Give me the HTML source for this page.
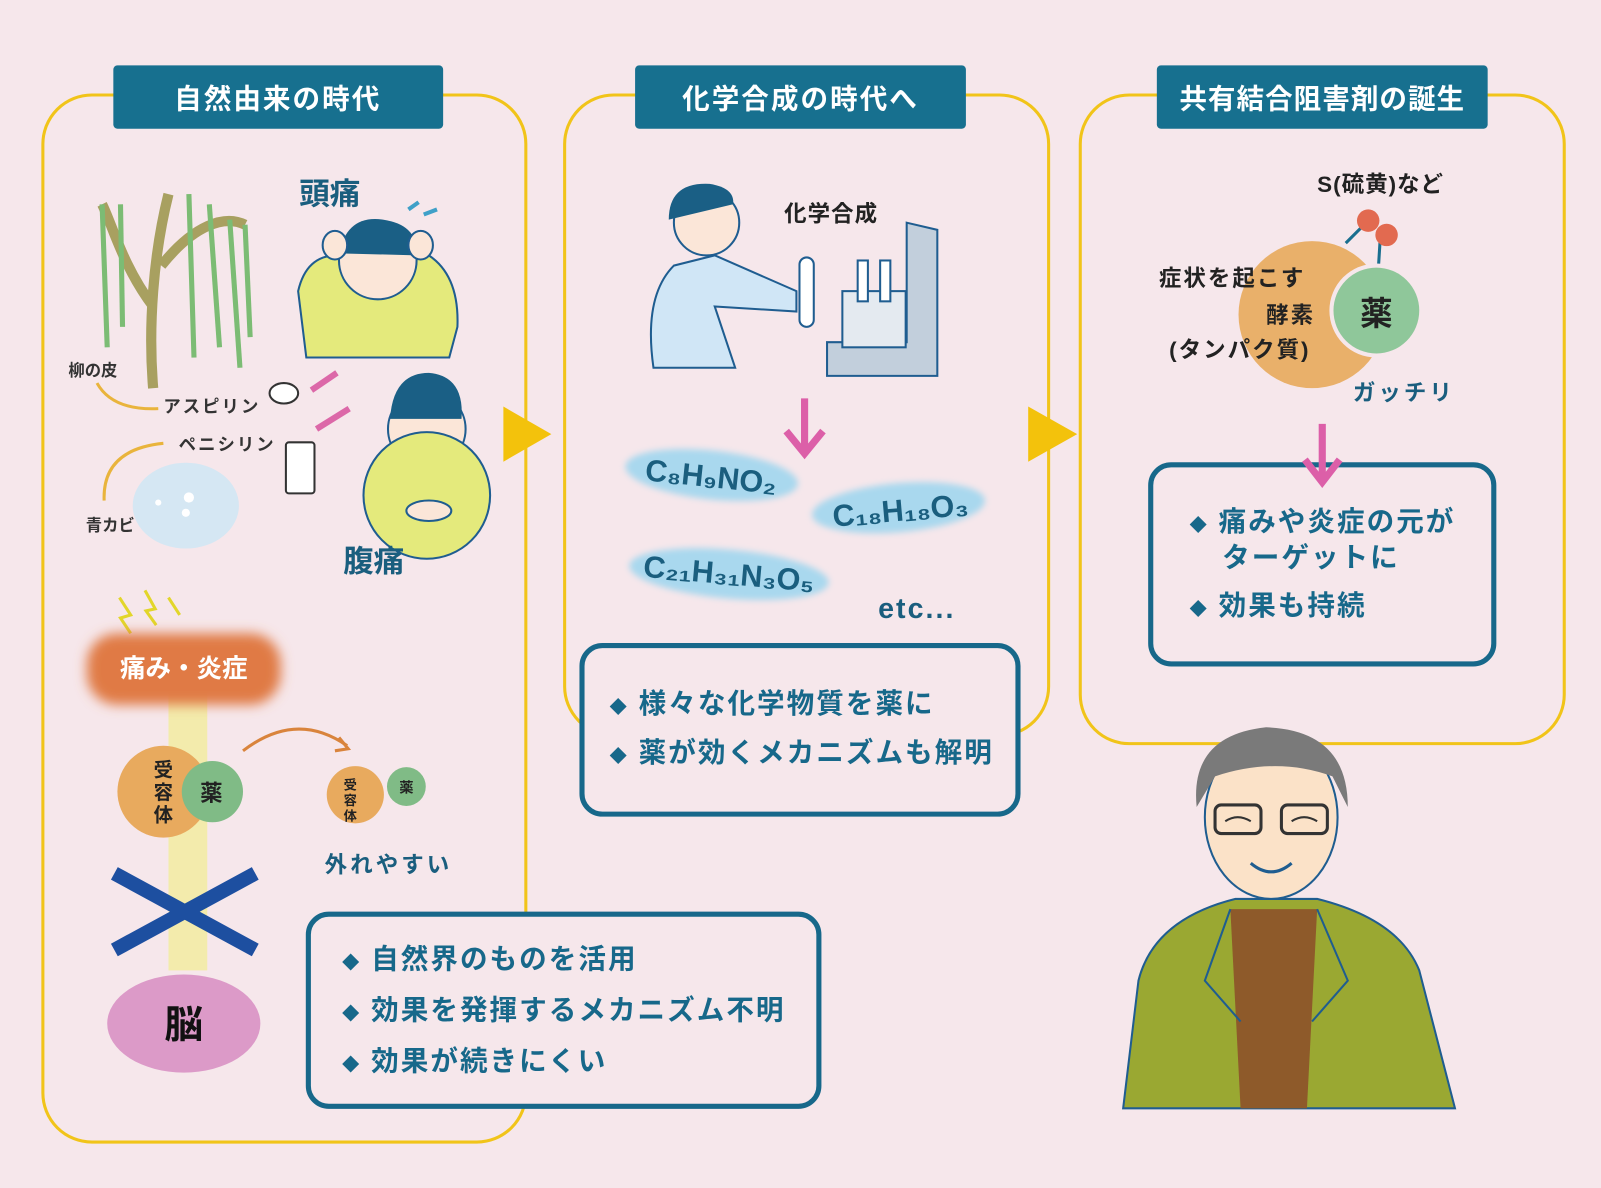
<!DOCTYPE html>
<html><head><meta charset="utf-8"><style>
html,body{margin:0;padding:0;background:#f6e7eb}
svg{display:block}
text{font-family:"Liberation Sans","Noto Sans CJK JP",sans-serif;font-weight:bold}
</style></head><body>
<svg width="1601" height="1188" viewBox="0 0 1568 1163" preserveAspectRatio="none" xmlns="http://www.w3.org/2000/svg">
<defs>
<filter id="bl" x="-20%" y="-40%" width="140%" height="180%"><feGaussianBlur stdDeviation="6"/></filter>
<filter id="bl2" x="-20%" y="-40%" width="140%" height="180%"><feGaussianBlur stdDeviation="3"/></filter>
</defs>
<rect width="1568" height="1163" fill="#f6e7eb"/>
<rect x="42" y="93" width="473" height="1025" rx="48" fill="none" stroke="#f1c419" stroke-width="3"/>
<rect x="553" y="93" width="474" height="627" rx="48" fill="none" stroke="#f1c419" stroke-width="3"/>
<rect x="1058" y="93" width="474" height="635" rx="48" fill="none" stroke="#f1c419" stroke-width="3"/>
<rect x="111" y="64" width="323" height="62" rx="4" fill="#17708f"/>
<text x="272" y="106" font-size="27" fill="#fff" text-anchor="middle" letter-spacing="2">自然由来の時代</text>
<rect x="622" y="64" width="324" height="62" rx="4" fill="#17708f"/>
<text x="784" y="106" font-size="27" fill="#fff" text-anchor="middle" letter-spacing="2">化学合成の時代へ</text>
<rect x="1133" y="64" width="324" height="62" rx="4" fill="#17708f"/>
<text x="1295" y="106" font-size="27" fill="#fff" text-anchor="middle" letter-spacing="1">共有結合阻害剤の誕生</text>
<polygon points="493,398 540,425 493,452" fill="#f3c20c"/>
<polygon points="1007,398 1055,425 1007,452" fill="#f3c20c"/>

<path d="M150,380 C145,320 150,250 165,190 M150,300 C120,260 110,220 100,200 M158,260 C190,220 220,210 240,220" stroke="#a8a060" stroke-width="10" fill="none"/>
<g stroke="#7cbc74" stroke-width="5" fill="none">
<path d="M100,200 L105,340"/><path d="M118,200 L120,320"/><path d="M185,190 L190,350"/><path d="M205,200 L215,340"/><path d="M225,215 L235,360"/><path d="M240,220 L245,330"/>
</g>
<text x="67" y="368" font-size="16" fill="#333">柳の皮</text>
<path d="M95,375 Q110,402 155,400" stroke="#e9b43c" stroke-width="3" fill="none"/>
<text x="160" y="404" font-size="17" fill="#333" letter-spacing="2">アスピリン</text>
<ellipse cx="278" cy="385" rx="14" ry="10" fill="#fff" stroke="#333" stroke-width="2"/>
<text x="175" y="441" font-size="17" fill="#333" letter-spacing="2">ペニシリン</text>
<path d="M102,490 Q100,440 160,434" stroke="#e9b43c" stroke-width="3" fill="none"/>
<rect x="280" y="433" width="28" height="50" rx="3" fill="#fff" stroke="#333" stroke-width="2"/>
<ellipse cx="182" cy="495" rx="52" ry="42" fill="#cfe6f4" opacity=".85"/>
<circle cx="185" cy="487" r="5" fill="#fff"/><circle cx="155" cy="492" r="3" fill="#fff"/><circle cx="182" cy="502" r="4" fill="#fff"/>
<text x="84" y="520" font-size="16" fill="#333">青カビ</text>
<path d="M305,382 L330,365 M310,420 L342,400" stroke="#dc68a8" stroke-width="6"/>
<text x="293" y="200" font-size="30" fill="#1a5e7e">頭痛</text>
<path d="M292,285 Q300,250 330,250 L420,250 Q450,270 448,320 L440,350 L300,350 Z" fill="#e4ea7c" stroke="#1f5d90" stroke-width="2"/>
<circle cx="370" cy="255" r="38" fill="#fbe6d8" stroke="#1f5d90" stroke-width="2"/>
<path d="M332,248 Q340,210 375,215 Q410,220 408,250 Z" fill="#1a5f85"/>
<ellipse cx="328" cy="240" rx="12" ry="14" fill="#fbe6d8" stroke="#1f5d90" stroke-width="2"/>
<ellipse cx="412" cy="240" rx="12" ry="14" fill="#fbe6d8" stroke="#1f5d90" stroke-width="2"/>
<path d="M400,205 L410,198 M415,210 L428,205" stroke="#3fa0c8" stroke-width="4"/>
<circle cx="418" cy="420" r="38" fill="#fbe6d8" stroke="#1f5d90" stroke-width="2"/>
<path d="M382,410 Q385,365 420,365 Q455,368 452,410 Z" fill="#1a5f85"/>
<circle cx="418" cy="485" r="62" fill="#e4ea7c" stroke="#1f5d90" stroke-width="2"/>
<ellipse cx="420" cy="500" rx="22" ry="10" fill="#fbe6d8" stroke="#1f5d90" stroke-width="2"/>
<text x="336" y="560" font-size="30" fill="#1a5e7e">腹痛</text>
<path d="M117,585 L128,602 L118,605 L128,620 M142,578 L152,596 L143,598 L153,612 M165,585 L176,602" stroke="#e2d62a" stroke-width="3" fill="none"/>
<rect x="165" y="660" width="38" height="290" fill="#f2ec9c" opacity=".8"/>
<rect x="85" y="620" width="190" height="70" rx="30" fill="#e07a44" filter="url(#bl)"/>
<text x="180" y="663" font-size="25" fill="#fff" text-anchor="middle">痛み・炎症</text>
<circle cx="160" cy="775" r="45" fill="#e8aa5e"/>
<circle cx="208" cy="775" r="30" fill="#80bb86"/>
<text x="207" y="784" font-size="22" fill="#222" text-anchor="middle">薬</text>
<text x="160" y="760" font-size="19" fill="#222" text-anchor="middle">受</text>
<text x="160" y="782" font-size="19" fill="#222" text-anchor="middle">容</text>
<text x="160" y="804" font-size="19" fill="#222" text-anchor="middle">体</text>
<path d="M238,735 Q290,695 340,730" stroke="#d9843c" stroke-width="3" fill="none"/>
<path d="M332,722 L341,733 L328,735" stroke="#d9843c" stroke-width="3" fill="none"/>
<circle cx="348" cy="778" r="28" fill="#e8aa5e"/>
<circle cx="398" cy="770" r="19" fill="#80bb86"/>
<text x="398" y="776" font-size="14" fill="#222" text-anchor="middle">薬</text>
<text x="343" y="773" font-size="13" fill="#222" text-anchor="middle">受</text>
<text x="343" y="788" font-size="13" fill="#222" text-anchor="middle">容</text>
<text x="343" y="803" font-size="13" fill="#222" text-anchor="middle">体</text>
<text x="318" y="854" font-size="22" fill="#1a5e7e" letter-spacing="3">外れやすい</text>
<path d="M112,855 L250,930 M250,855 L112,930" stroke="#1d4fa0" stroke-width="14"/>
<ellipse cx="180" cy="1002" rx="75" ry="48" fill="#dc9ac8"/>
<text x="180" y="1016" font-size="38" fill="#111" text-anchor="middle">脳</text>
<rect x="302" y="895" width="500" height="188" rx="20" fill="#f6e7eb" stroke="#17688a" stroke-width="5"/>
<g font-size="27" fill="#17688a" letter-spacing="2">
<text x="335" y="948"><tspan font-size="17">◆</tspan> 自然界のものを活用</text>
<text x="335" y="998"><tspan font-size="17">◆</tspan> 効果を発揮するメカニズム不明</text>
<text x="335" y="1048"><tspan font-size="17">◆</tspan> 効果が続きにくい</text>
</g>

<path d="M640,360 Q630,290 660,260 L700,250 L780,285 L780,305 L700,300 L720,360 Z" fill="#d0e6f6" stroke="#1f5d90" stroke-width="2"/>
<circle cx="692" cy="218" r="32" fill="#fbe6d8" stroke="#1f5d90" stroke-width="2"/>
<path d="M655,215 Q655,178 695,180 Q720,184 718,200 Z" fill="#1a5f85"/>
<rect x="783" y="252" width="14" height="68" rx="7" fill="#fff" stroke="#1f5d90" stroke-width="2"/>
<text x="768" y="217" font-size="22" fill="#222" letter-spacing="1">化学合成</text>
<path d="M888,218 L918,225 L918,368 L810,368 L810,335 L888,335 Z" fill="#c2cfdc" stroke="#1f5d90" stroke-width="2"/>
<rect x="825" y="285" width="62" height="55" fill="#e4eaf0" stroke="#1f5d90" stroke-width="2"/>
<rect x="840" y="255" width="10" height="40" fill="#fff" stroke="#1f5d90" stroke-width="2"/>
<rect x="862" y="255" width="10" height="40" fill="#fff" stroke="#1f5d90" stroke-width="2"/>
<path d="M788,390 L788,440 M770,422 L788,444 L806,422" stroke="#dc5fa8" stroke-width="7" fill="none"/>
<ellipse cx="697" cy="465" rx="85" ry="24" fill="#a9d8ee" filter="url(#bl2)" transform="rotate(6 697 465)"/>
<text x="632" y="477" font-size="30" fill="#1a5e7e" transform="rotate(6 697 465)">C₈H₉NO₂</text>
<ellipse cx="880" cy="497" rx="85" ry="24" fill="#a9d8ee" filter="url(#bl2)" transform="rotate(-5 880 497)"/>
<text x="815" y="510" font-size="30" fill="#1a5e7e" transform="rotate(-5 880 497)">C₁₈H₁₈O₃</text>
<ellipse cx="714" cy="562" rx="98" ry="24" fill="#a9d8ee" filter="url(#bl2)" transform="rotate(5 714 562)"/>
<text x="630" y="572" font-size="30" fill="#1a5e7e" transform="rotate(5 714 562)">C₂₁H₃₁N₃O₅</text>
<text x="860" y="605" font-size="28" fill="#1a5e7e" letter-spacing="2">etc...</text>
<rect x="570" y="632" width="427" height="165" rx="20" fill="#f6e7eb" stroke="#17688a" stroke-width="5"/>
<g font-size="27" fill="#17688a" letter-spacing="2">
<text x="597" y="698"><tspan font-size="17">◆</tspan> 様々な化学物質を薬に</text>
<text x="597" y="746"><tspan font-size="17">◆</tspan> 薬が効くメカニズムも解明</text>
</g>

<text x="1290" y="188" font-size="22" fill="#222" letter-spacing="1">S(硫黄)など</text>
<path d="M1318,238 L1338,218 M1352,230 L1350,262" stroke="#1a6f8f" stroke-width="3"/>
<circle cx="1340" cy="216" r="11" fill="#e26a50"/>
<circle cx="1358" cy="230" r="11" fill="#e26a50"/>
<circle cx="1285" cy="308" r="72" fill="#e9b06a"/>
<circle cx="1348" cy="304" r="46" fill="#f6e7eb"/>
<circle cx="1348" cy="304" r="42" fill="#8fc79a"/>
<text x="1348" y="318" font-size="32" fill="#222" text-anchor="middle">薬</text>
<text x="1135" y="280" font-size="22" fill="#222" letter-spacing="2">症状を起こす</text>
<text x="1240" y="316" font-size="22" fill="#222" letter-spacing="2">酵素</text>
<text x="1145" y="350" font-size="22" fill="#222" letter-spacing="2">(タンパク質)</text>
<text x="1325" y="392" font-size="22" fill="#1a5e7e" letter-spacing="3">ガッチリ</text>
<rect x="1127" y="455" width="336" height="195" rx="20" fill="#f6e7eb" stroke="#17688a" stroke-width="5"/>
<path d="M1295,415 L1295,468 M1278,450 L1295,472 L1312,450" stroke="#dc5fa8" stroke-width="7" fill="none"/>
<g font-size="27" fill="#17688a" letter-spacing="2">
<text x="1165" y="520"><tspan font-size="17">◆</tspan> 痛みや炎症の元が</text>
<text x="1197" y="555">ターゲットに</text>
<text x="1165" y="602"><tspan font-size="17">◆</tspan> 効果も持続</text>
</g>

<path d="M1100,1085 L1115,960 Q1130,900 1210,880 L1290,880 Q1370,900 1390,950 L1425,1085 Z" fill="#9aa832" stroke="#1f5d90" stroke-width="2"/>
<path d="M1205,890 L1290,890 L1280,1085 L1215,1085 Z" fill="#8e5a2a"/>
<path d="M1205,890 L1180,960 L1215,1000 M1290,890 L1320,960 L1285,1000" stroke="#1f5d90" stroke-width="2" fill="none"/>
<ellipse cx="1245" cy="800" rx="65" ry="80" fill="#fbe2c8" stroke="#1f5d90" stroke-width="2"/>
<path d="M1172,790 Q1165,720 1240,712 Q1320,715 1320,790 L1305,760 Q1250,740 1190,760 Z" fill="#7a7a7a"/>
<rect x="1190" y="788" width="45" height="28" rx="6" fill="none" stroke="#333" stroke-width="3"/>
<rect x="1255" y="788" width="45" height="28" rx="6" fill="none" stroke="#333" stroke-width="3"/>
<path d="M1200,804 Q1212,796 1225,804 M1265,804 Q1277,796 1290,804" stroke="#333" stroke-width="2" fill="none"/>
<path d="M1225,845 Q1245,862 1265,845" stroke="#1f5d90" stroke-width="3" fill="none"/>
</svg>
</body></html>
